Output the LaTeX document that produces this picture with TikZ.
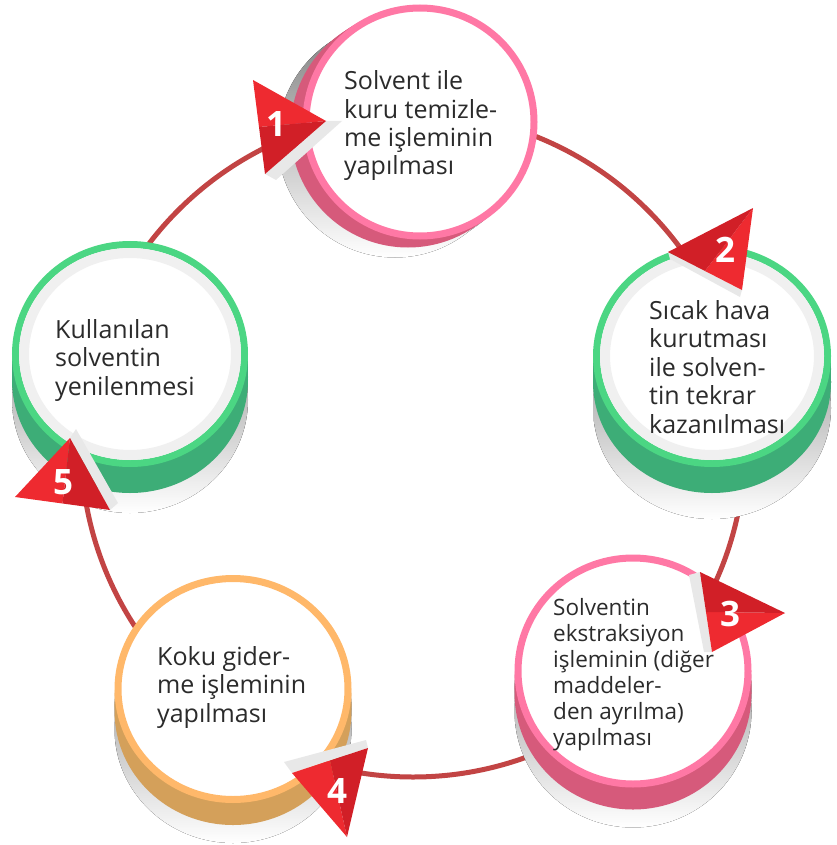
\documentclass[tikz,border=0pt]{standalone}
\usepackage{fontspec}
\setmainfont{Open Sans}
\usetikzlibrary{calc}
\definecolor{ringred}{HTML}{C24444}
\definecolor{pinkF}{HTML}{FF78A5}
\definecolor{pinkS}{HTML}{D65A7B}
\definecolor{greenF}{HTML}{4BD683}
\definecolor{greenS}{HTML}{3DAD77}
\definecolor{orangeF}{HTML}{FFB86A}
\definecolor{orangeS}{HTML}{D4A05A}
\definecolor{shade}{HTML}{CCCCCC}
\definecolor{redL}{HTML}{EE2A30}
\definecolor{redD}{HTML}{D11F27}
\definecolor{txt}{HTML}{2B2B2B}
% disc: centre, x radius, y radius, rim, side, side shift, shadow shift
\newcommand{\disc}[7]{%
  \foreach \f in {0.5,1}
    \fill[shade,shift={($\f*#7$)}] #1 ellipse[x radius=#2,y radius=#3];
  \foreach \f in {0.5,1}
    \fill[#5,shift={($\f*#6$)}] #1 ellipse[x radius=#2,y radius=#3];
  \filldraw[fill=white,draw=#4,line width=7pt] #1 ellipse[x radius=#2-3.5,y radius=#3-3.5];
}
% flag: tip, light corner, dark corner
\newcommand{\flag}[3]{%
  \fill[redL] #1 -- #2 -- ($#2!0.5!#3$) -- cycle;
  \fill[redD] #1 -- ($#2!0.5!#3$) -- #3 -- cycle;
}
\begin{document}
\begin{tikzpicture}[x=1pt,y=-1pt,
    ring/.style={draw=ringred,line width=5pt},
    desc/.style={inner sep=0pt,align=left,anchor=base west,text=txt,
      font=\fontsize{25}{28.4}\selectfont},
    num/.style={inner sep=0pt,text=white,font=\fontsize{35}{35}\selectfont\bfseries},
    gloss/.style={fill=black!9}]
\useasboundingbox (0,0) rectangle (836,845);
\coordinate (hub) at (413,445);
\draw[ring] (hub) circle[radius=332];

% discs
\disc{(420,122)}{117.5}{117.5}{pinkF}{pinkS}{(-12,8)}{(-25,18)}
\disc{(712,356)}{119}{111}{greenF}{greenS}{(0,26)}{(0,52)}
\draw[black!6,line width=10pt] (712,356) ellipse[x radius=107,y radius=99];
\disc{(633,671)}{118.5}{116.5}{pinkF}{pinkS}{(0,22)}{(0,40)}
\disc{(233,689)}{118.5}{114}{orangeF}{orangeS}{(0,22)}{(0,40)}
\disc{(130,354)}{118}{113}{greenF}{greenS}{(0,26)}{(0,46)}
\draw[black!6,line width=10pt] (130,354) ellipse[x radius=106,y radius=101];

% texts (placed at the baseline of their last line)
\node[desc] (t1) at (344,175) {Solvent ile\\kuru temizle-\\me işleminin\\yapılması};
\node[desc] (t2) at (649,433) {Sıcak hava\\kurutması\\ile solven-\\tin tekrar\\kazanılması};
\node[desc,font=\fontsize{22.5}{26}\selectfont] (t3) at (553,745)
  {Solventin\\ekstraksiyon\\işleminin (diğer\\maddeler-\\den ayrılma)\\yapılması};
\node[desc] (t4) at (157,722) {Koku gider-\\me işleminin\\yapılması};
\node[desc] (t5) at (55,395) {Kullanılan\\solventin\\yenilenmesi};

% arrow heads
\fill[gloss] (326,121) -- (342,121) -- (276,180) -- (265,174) -- cycle;
\fill[gloss] (668,252) -- (742,290) -- (740,297) -- (670,259) -- cycle;
\fill[gloss] (700,572) -- (712,652) -- (704,652) -- (689,575) -- cycle;
\fill[gloss] (292,773) -- (368,748) -- (366,740) -- (284,762) -- cycle;
\fill[gloss] (70,438) -- (110,510) -- (118,503) -- (76,429) -- cycle;
\flag{(326,121)}{(253,80)}{(265,174)}
\flag{(753,208)}{(742,290)}{(668,252)}
\flag{(785,613)}{(712,652)}{(700,572)}
\flag{(347,837)}{(292,773)}{(368,748)}
\flag{(70,438)}{(15,497)}{(110,510)}
\node[num] (n1) at (276,124) {1};
\node[num] (n2) at (725,250) {2};
\node[num] (n3) at (730,614) {3};
\node[num] (n4) at (337,791) {4};
\node[num] (n5) at (63,482) {5};
\end{tikzpicture}
\end{document}
